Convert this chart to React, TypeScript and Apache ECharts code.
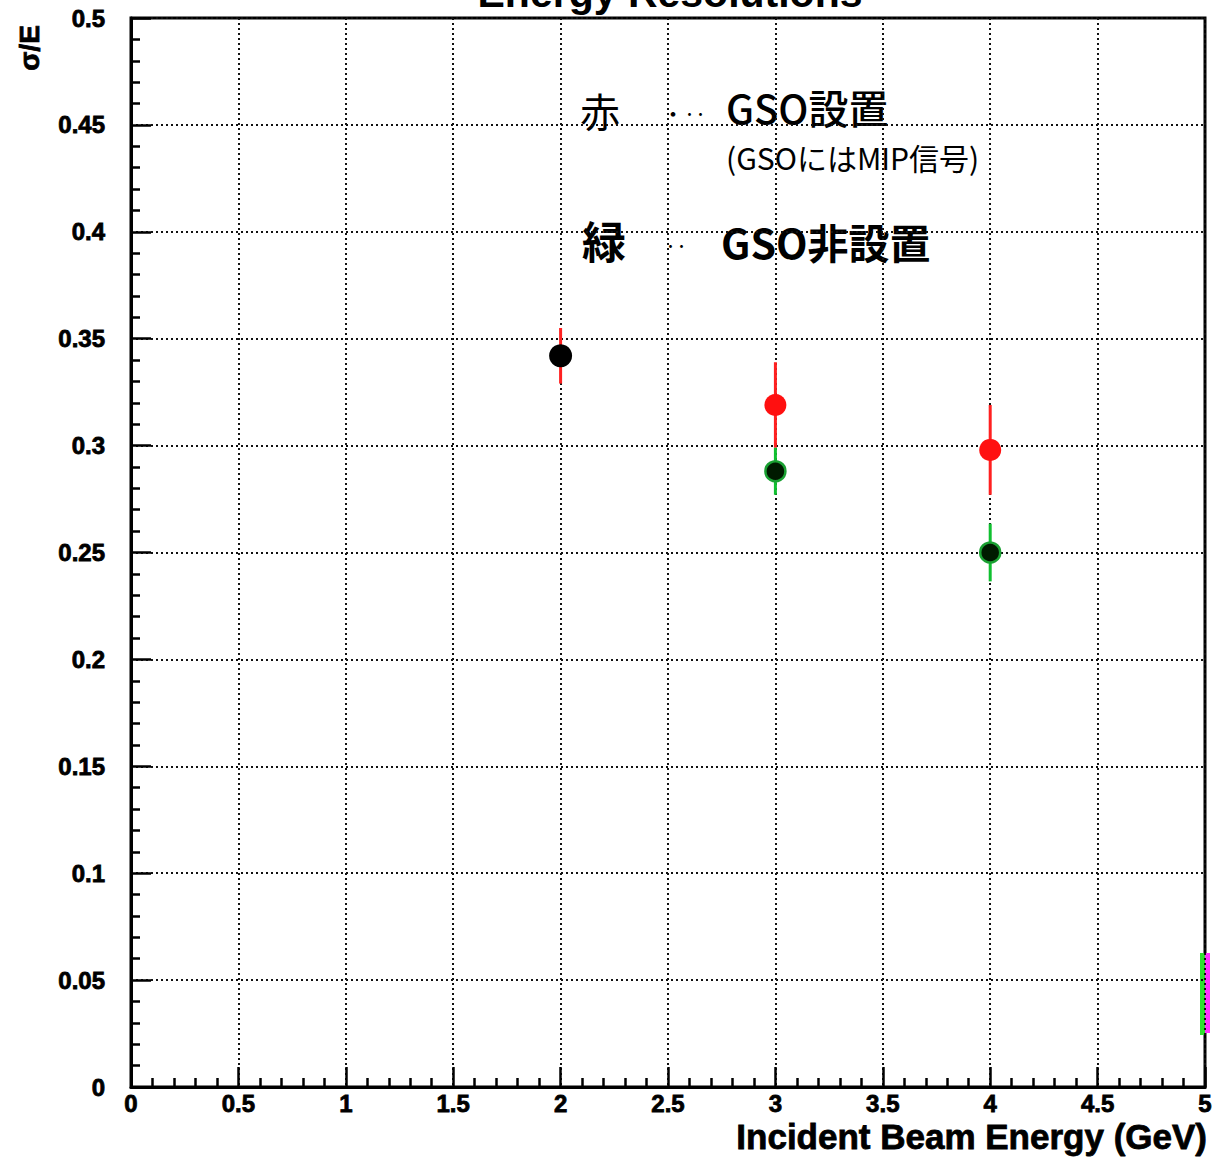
import React, { useEffect, useRef } from "react";
import * as echarts from "echarts";

// Data
const blackEnergy = [2];
const blackSigma = [0.342];
const blackErr = [0.013];

const redEnergy = [3, 4];
const redSigma = [0.319, 0.298];
const redErr = [0.02, 0.021];

const greenEnergy = [3, 4];
const greenSigma = [0.288, 0.25];
const greenErr = [0.011, 0.0135];

const titleText = "Energy Resolutions";
const xAxisTitle = "Incident Beam Energy (GeV)";
const yAxisTitle = "σ/E";

const FONT = "'Liberation Sans', Arial, sans-serif";
const JP = "'Noto Sans CJK JP', sans-serif";

function toTriples(xs: number[], ys: number[], es: number[]) {
  return xs.map((x, i) => [x, ys[i], es[i]]);
}

function errorSeries(data: number[][], color: string, z: number) {
  return {
    type: "custom",
    z,
    data,
    renderItem: (params: any, api: any) => {
      const x = api.value(0);
      const y = api.value(1);
      const e = api.value(2);
      const top = api.coord([x, y + e]);
      const bot = api.coord([x, y - e]);
      return {
        type: "line",
        shape: { x1: top[0], y1: top[1], x2: bot[0], y2: bot[1] },
        style: { stroke: color, lineWidth: 3 },
      };
    },
    encode: { x: 0, y: 1 },
  };
}

export default function App() {
  const ref = useRef<HTMLDivElement>(null);
  useEffect(() => {
    if (!ref.current) return;
    const chart = echarts.init(ref.current, null, { renderer: "svg" });
    const labelStyle = {
      fontFamily: FONT,
      fontWeight: "bold",
      fontSize: 24,
      color: "#000",
      textBorderColor: "#000",
      textBorderWidth: 0.8,
    };
    const axisCommon = {
      type: "value",
      axisLine: { show: true, lineStyle: { color: "#000", width: 3 } },
      axisTick: { show: true, inside: true, length: 20, lineStyle: { color: "#000", width: 2.5 } },
      minorTick: { show: true, splitNumber: 5, length: 9, lineStyle: { color: "#000", width: 2.5 } },
      splitLine: { show: true, lineStyle: { color: "#111", type: [2, 3], width: 2 } },
      minorSplitLine: { show: false },
    };
    chart.setOption({
      animation: false,
      backgroundColor: "#fff",
      grid: {
        left: 131,
        top: 18,
        right: 18,
        bottom: 70,
        show: true,
        borderColor: "#000",
        borderWidth: 3,
        backgroundColor: "transparent",
      },
      xAxis: {
        ...axisCommon,
        min: 0,
        max: 5,
        interval: 0.5,
        axisLabel: { ...labelStyle, margin: 4 },
      },
      yAxis: {
        ...axisCommon,
        min: 0,
        max: 0.5,
        interval: 0.05,
        axisLabel: { ...labelStyle, margin: 26 },
      },
      series: [
        errorSeries(toTriples(blackEnergy, blackSigma, blackErr), "#ff2020", 2),
        errorSeries(toTriples(redEnergy, redSigma, redErr), "#ff2020", 2),
        errorSeries(toTriples(greenEnergy, greenSigma, greenErr), "#10c030", 2),
        {
          type: "scatter",
          z: 5,
          symbol: "circle",
          symbolSize: 22,
          itemStyle: { color: "#ff1010", opacity: 1 },
          data: redEnergy.map((x, i) => [x, redSigma[i]]),
        },
        {
          type: "scatter",
          z: 5,
          symbol: "circle",
          symbolSize: 20,
          itemStyle: { color: "#001a00", borderColor: "#1aa032", borderWidth: 2.5, opacity: 1 },
          data: greenEnergy.map((x, i) => [x, greenSigma[i]]),
        },
        {
          type: "scatter",
          z: 6,
          symbol: "circle",
          symbolSize: 23,
          itemStyle: { color: "#000", opacity: 1 },
          data: blackEnergy.map((x, i) => [x, blackSigma[i]]),
        },
      ],
      graphic: [
        {
          type: "text",
          x: 670,
          y: 13,
          style: {
            text: titleText,
            font: `bold 41px ${FONT}`,
            fill: "#000",
            align: "center",
            verticalAlign: "bottom",
          },
        },
        {
          type: "text",
          x: 29,
          y: 48,
          rotation: Math.PI / 2,
          style: {
            text: yAxisTitle,
            font: `bold 28px ${FONT}`,
            fill: "#000",
            stroke: "#000",
            lineWidth: 0.8,
            align: "center",
            verticalAlign: "middle",
          },
        },
        {
          type: "text",
          x: 1207,
          y: 1136,
          style: {
            text: xAxisTitle,
            font: `bold 35px ${FONT}`,
            fill: "#000",
            stroke: "#000",
            lineWidth: 0.8,
            align: "right",
            verticalAlign: "middle",
          },
        },
        // handwritten-style annotations
        {
          type: "text",
          x: 580,
          y: 110,
          style: { text: "赤", font: `40px ${JP}`, fill: "#000", verticalAlign: "middle" },
        },
        {
          type: "text",
          x: 662,
          y: 112,
          style: { text: "・‥", font: `22px ${JP}`, fill: "#000", verticalAlign: "middle" },
        },
        {
          type: "text",
          x: 726,
          y: 107,
          style: { text: "GSO設置", font: `500 40px ${JP}`, fill: "#000", verticalAlign: "middle" },
        },
        {
          type: "text",
          x: 726,
          y: 157,
          style: { text: "(GSOにはMIP信号)", font: `30px ${JP}`, fill: "#000", verticalAlign: "middle" },
        },
        {
          type: "text",
          x: 582,
          y: 240,
          style: { text: "緑", font: `bold 44px ${JP}`, fill: "#000", verticalAlign: "middle" },
        },
        {
          type: "text",
          x: 665,
          y: 244,
          style: { text: "‥", font: `22px ${JP}`, fill: "#000", verticalAlign: "middle" },
        },
        {
          type: "text",
          x: 721,
          y: 241,
          style: { text: "GSO非設置", font: `bold 41px ${JP}`, fill: "#000", verticalAlign: "middle" },
        },
        // scan artefact on the right border
        { type: "rect", shape: { x: 1200, y: 953, width: 5, height: 82 }, style: { fill: "#30e030" } },
        { type: "rect", shape: { x: 1205, y: 953, width: 5, height: 80 }, style: { fill: "#ff30ff" } },
      ],
    });
    return () => chart.dispose();
  }, []);
  return (
    <div
      ref={ref}
      style={{ position: "fixed", left: 0, top: 0, width: 1223, height: 1157 }}
    />
  );
}
